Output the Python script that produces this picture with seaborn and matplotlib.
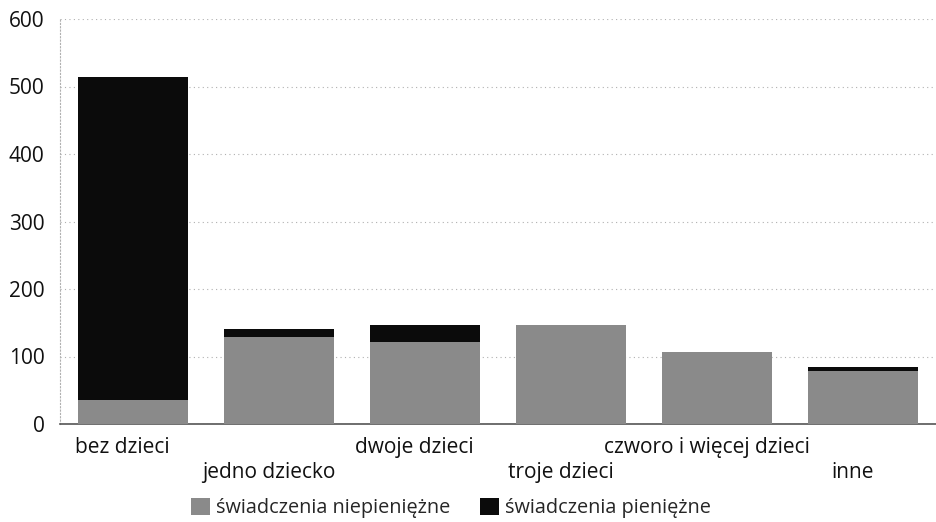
import matplotlib
matplotlib.use("Agg")
import matplotlib.pyplot as plt
import seaborn as sns
import pandas as pd
from matplotlib.patches import Patch

categories = ["bez dzieci", "jedno dziecko", "dwoje dzieci", "troje dzieci",
              "czworo i więcej dzieci", "inne"]
niepieniezne = [35, 129, 121, 147, 107, 79]
pieniezne = [479, 12, 26, 0, 0, 6]
yticks = [0, 100, 200, 300, 400, 500, 600]
series_names = ["świadczenia niepieniężne", "świadczenia pieniężne"]

sns.set_theme(style="white")
plt.rcParams["font.family"] = ["Open Sans", "DejaVu Sans"]

df = pd.DataFrame({
    "cat": categories,
    "gray": niepieniezne,
    "total": [a + b for a, b in zip(niepieniezne, pieniezne)],
})

fig = plt.figure(figsize=(9.36, 5.22), dpi=100)
ax = fig.add_axes([60 / 936, 1 - 424 / 522, 876 / 936, 405 / 522])

gray_c = "#8a8a8a"
black_c = "#0b0b0b"

sns.barplot(data=df, x="cat", y="total", color=black_c, width=0.75,
            saturation=1, ax=ax, zorder=3, linewidth=0)
sns.barplot(data=df, x="cat", y="gray", color=gray_c, width=0.75,
            saturation=1, ax=ax, zorder=4, linewidth=0)

ax.set_ylim(0, 600)
ax.set_xlim(-0.5, 5.5)
ax.set_yticks(yticks)
ax.set_yticklabels([str(t) for t in yticks], fontsize=15, color="#111111")
ax.tick_params(axis="y", length=0, pad=11)
ax.tick_params(axis="x", length=0)
ax.set_xlabel("")
ax.set_ylabel("")

ax.set_xticks(range(len(categories)))
ax.set_xticklabels([])
for i, c in enumerate(categories):
    yoff = -0.032 if i % 2 == 0 else -0.094
    ax.text(i - 0.07, yoff, c, transform=ax.get_xaxis_transform(),
            ha="center", va="top", fontsize=15, color="#111111")

ax.grid(axis="y", color="#b0b0b0", linestyle=(0, (1, 3)), linewidth=0.8, zorder=0)
for s in ["top", "right"]:
    ax.spines[s].set_visible(False)
ax.spines["left"].set_color("#b0b0b0")
ax.spines["left"].set_linestyle((0, (1, 2)))
ax.spines["left"].set_linewidth(0.8)
ax.spines["bottom"].set_color("#555555")
ax.spines["bottom"].set_linewidth(1.2)

handles = [Patch(facecolor=gray_c, edgecolor="none"),
           Patch(facecolor=black_c, edgecolor="none")]
fig.legend(handles, series_names, loc="center", bbox_to_anchor=(451 / 936, 1 - 508 / 522),
           ncol=2, frameon=False, fontsize=14.3, handlelength=0.95, handleheight=0.95,
           handletextpad=0.3, columnspacing=1.5)

fig.savefig("out.png", dpi=100)
